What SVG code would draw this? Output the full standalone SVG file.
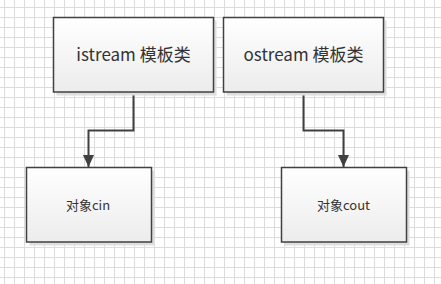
<svg xmlns="http://www.w3.org/2000/svg" width="441" height="284" viewBox="0 0 441 284">
  <defs>
    <pattern id="grid" x="4" y="7" width="10" height="10" patternUnits="userSpaceOnUse">
      <path d="M0.5 0 V10 M0 0.5 H10" fill="none" stroke="#dcdcdc" stroke-width="1"/>
    </pattern>
    <linearGradient id="boxfill" x1="0" y1="0" x2="0" y2="1">
      <stop offset="0" stop-color="#ffffff"/>
      <stop offset="1" stop-color="#ececec"/>
    </linearGradient>
    <marker id="arrow" viewBox="0 0 12 11" refX="12" refY="5.5" markerWidth="6" markerHeight="5.5" markerUnits="strokeWidth" orient="auto">
      <path d="M0 0 L12 5.5 L0 11 Z" fill="#404040"/>
    </marker>
    <style>
      .shadow { fill: #dedede; }
      .box { fill: url(#boxfill); stroke: #404040; stroke-width: 1.5; }
      .big { font-family: "Noto Sans CJK SC", "Noto Sans", sans-serif; font-size: 17px; fill: #333333; text-anchor: middle; }
      .small { font-family: "Noto Sans CJK SC", "Noto Sans", sans-serif; font-size: 13px; fill: #333333; text-anchor: middle; }
      .conn { fill: none; stroke: #404040; stroke-width: 2; }
    </style>
  </defs>
  <rect width="441" height="284" fill="#ffffff"/>
  <rect width="441" height="284" fill="url(#grid)"/>

  <g id="connectors">
    <path class="conn" d="M133.5 92 V130.5 H88.5 V167" marker-end="url(#arrow)"/>
    <path class="conn" d="M303.5 92 V130.5 H343.5 V167" marker-end="url(#arrow)"/>
  </g>

  <g id="istream">
    <rect class="shadow" x="56.5" y="20.5" width="160" height="75"/>
    <rect class="box" x="53.5" y="17.5" width="160" height="74.5"/>
    <text class="big" x="133.5" y="61">istream 模板类</text>
  </g>
  <g id="ostream">
    <rect class="shadow" x="226.5" y="20.5" width="160" height="75"/>
    <rect class="box" x="223.5" y="17.5" width="160" height="74.5"/>
    <text class="big" x="303.5" y="61">ostream 模板类</text>
  </g>
  <g id="cin">
    <rect class="shadow" x="29.5" y="170.5" width="125" height="75"/>
    <rect class="box" x="26.5" y="167.5" width="125" height="74.5"/>
    <text class="small" x="88" y="209.5">对象cin</text>
  </g>
  <g id="cout">
    <rect class="shadow" x="284.5" y="170.5" width="125" height="75"/>
    <rect class="box" x="281.5" y="167.5" width="125" height="74.5"/>
    <text class="small" x="343.5" y="209.5">对象cout</text>
  </g>
</svg>
